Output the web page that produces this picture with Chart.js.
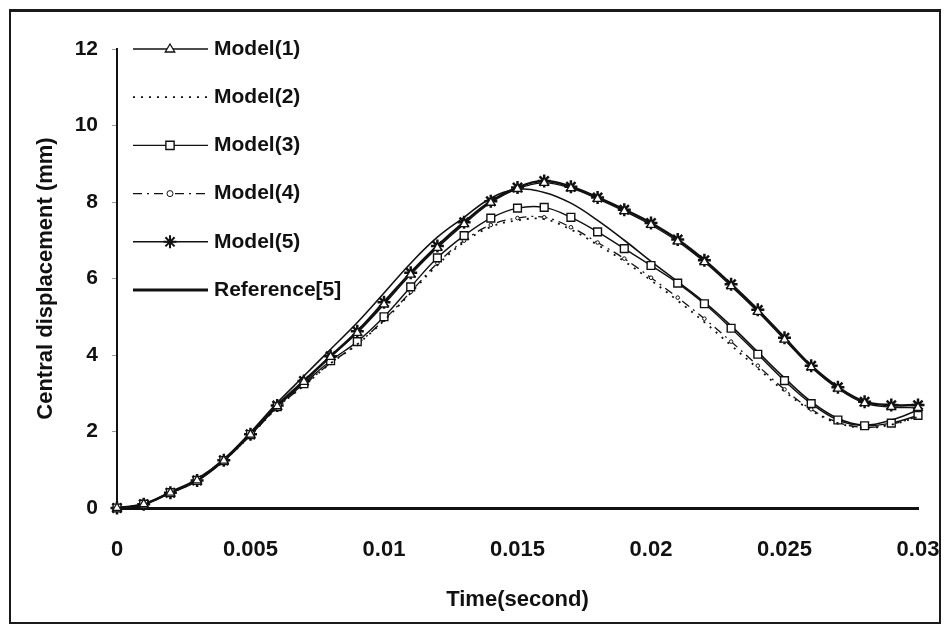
<!DOCTYPE html>
<html>
<head>
<meta charset="utf-8">
<script src="https://cdn.jsdelivr.net/npm/chart.js@4.4.1/dist/chart.umd.min.js"></script>
<style>
  html, body { margin: 0; padding: 0; background: #fff; }
  #wrap { position: relative; width: 946px; height: 629px; }
  #frame { position: absolute; left: 9px; top: 9px; width: 928px; height: 610px; border: 2px solid #1a1a1a; border-top-width: 3px; pointer-events: none; }
  canvas { position: absolute; left: 0; top: 0; }
</style>
</head>
<body>
<div id="wrap">
  <canvas id="chart" width="946" height="629"></canvas>
  <div id="frame"></div>
</div>
<script>
// time (second)
var times = [0, 0.001, 0.002, 0.003, 0.004, 0.005, 0.006, 0.007, 0.008, 0.009, 0.010,
  0.011, 0.012, 0.013, 0.014, 0.015, 0.016, 0.017, 0.018, 0.019, 0.020,
  0.021, 0.022, 0.023, 0.024, 0.025, 0.026, 0.027, 0.028, 0.029, 0.030];

// central displacement (mm)
var model1 = [0, 0.1, 0.4, 0.72, 1.24, 1.92, 2.66, 3.3, 3.95, 4.58, 5.32, 6.1, 6.8, 7.42, 7.98, 8.34, 8.5, 8.36, 8.08, 7.76, 7.4, 6.97, 6.43, 5.8, 5.13, 4.4, 3.68, 3.12, 2.74, 2.64, 2.62];
var model2 = [0, 0.1, 0.4, 0.72, 1.24, 1.9, 2.62, 3.2, 3.78, 4.28, 4.9, 5.62, 6.35, 6.95, 7.35, 7.52, 7.55, 7.28, 6.88, 6.45, 5.95, 5.42, 4.86, 4.25, 3.65, 3.05, 2.55, 2.22, 2.1, 2.18, 2.38];
var model3 = [0, 0.1, 0.4, 0.72, 1.24, 1.92, 2.65, 3.25, 3.85, 4.35, 5.0, 5.78, 6.54, 7.12, 7.58, 7.84, 7.86, 7.6, 7.22, 6.78, 6.34, 5.88, 5.34, 4.7, 4.02, 3.33, 2.73, 2.3, 2.15, 2.22, 2.42];
var model4 = [0, 0.1, 0.4, 0.72, 1.24, 1.9, 2.62, 3.21, 3.79, 4.29, 4.92, 5.65, 6.4, 6.99, 7.4, 7.58, 7.6, 7.34, 6.94, 6.52, 6.02, 5.5, 4.95, 4.35, 3.72, 3.1, 2.58, 2.24, 2.11, 2.19, 2.39];
var model5 = [0, 0.1, 0.4, 0.72, 1.25, 1.93, 2.68, 3.32, 3.97, 4.62, 5.38, 6.15, 6.85, 7.47, 8.02, 8.38, 8.55, 8.4, 8.12, 7.8, 7.45, 7.02, 6.48, 5.85, 5.18, 4.45, 3.72, 3.16, 2.78, 2.69, 2.69];
var reference5 = [0, 0.1, 0.42, 0.76, 1.28, 1.98, 2.75, 3.45, 4.15, 4.85, 5.62, 6.4, 7.08, 7.6, 8.1, 8.33, 8.25, 7.97, 7.52, 7.0, 6.45, 5.92, 5.38, 4.76, 4.08, 3.4, 2.78, 2.34, 2.17, 2.3, 2.56];

var seriesNames = ['Model(1)', 'Model(2)', 'Model(3)', 'Model(4)', 'Model(5)', 'Reference[5]'];
var yTicks = [0, 2, 4, 6, 8, 10, 12];
var xTicks = [0, 0.005, 0.01, 0.015, 0.02, 0.025, 0.03];

var fontFamily = '"Liberation Sans", Arial, sans-serif';

function toPoints(values) {
  return times.map((t, i) => ({x: t, y: values[i]}));
}

function drawMarker(ctx, style, x, y, r, lw) {
  ctx.save();
  ctx.lineWidth = lw;
  ctx.strokeStyle = '#111';
  ctx.fillStyle = '#fff';
  ctx.beginPath();
  if (style === 'triangle') {
    ctx.moveTo(x, y - r);
    ctx.lineTo(x + r * 0.95, y + r * 0.6);
    ctx.lineTo(x - r * 0.95, y + r * 0.6);
    ctx.closePath();
    ctx.fill(); ctx.stroke();
  } else if (style === 'rect') {
    ctx.rect(x - r * 0.75, y - r * 0.75, r * 1.5, r * 1.5);
    ctx.fill(); ctx.stroke();
  } else if (style === 'circle') {
    ctx.arc(x, y, r, 0, Math.PI * 2);
    ctx.fill(); ctx.stroke();
  } else if (style === 'star') {
    for (let k = 0; k < 4; k++) {
      let a = k * Math.PI / 4;
      ctx.moveTo(x - Math.cos(a) * r, y - Math.sin(a) * r);
      ctx.lineTo(x + Math.cos(a) * r, y + Math.sin(a) * r);
    }
    ctx.stroke();
  }
  ctx.restore();
}

// legend drawn inside the plot, top-left, like the original figure
var legendBox = {
  id: 'legendBox',
  afterDraw(chart) {
    var ctx = chart.ctx;
    var x0 = 133, x1 = 208, tx = 214, y0 = 49, dy = 48.2;
    chart.data.datasets.forEach((ds, i) => {
      var y = y0 + i * dy;
      ctx.save();
      ctx.strokeStyle = ds.borderColor;
      ctx.lineWidth = ds.legendLineWidth || ds.borderWidth;
      ctx.setLineDash(ds.borderDash || []);
      ctx.beginPath();
      ctx.moveTo(x0, y);
      ctx.lineTo(x1, y);
      ctx.stroke();
      ctx.setLineDash([]);
      if (ds.pointRadius > 0) {
        drawMarker(ctx, ds.pointStyle, 170, y, ds.legendRadius || ds.pointRadius, ds.legendMarkerWidth || ds.pointBorderWidth);
      }
      ctx.fillStyle = '#111';
      ctx.font = 'bold 21px ' + fontFamily;
      ctx.textBaseline = 'middle';
      ctx.textAlign = 'left';
      ctx.fillText(seriesNames[i], tx, y);
      ctx.restore();
    });
  }
};

new Chart(document.getElementById('chart'), {
  type: 'line',
  data: {
    datasets: [
      {
        label: seriesNames[0],
        data: toPoints(model1),
        borderColor: '#111', borderWidth: 1.3,
        pointStyle: 'triangle', pointRadius: 5, pointBorderWidth: 1.3,
        pointBackgroundColor: '#fff', pointBorderColor: '#111',
        tension: 0.4
      },
      {
        label: seriesNames[1],
        data: toPoints(model2),
        borderColor: '#111', borderWidth: 1.8, borderDash: [2, 6],
        pointRadius: 0, pointBorderWidth: 0,
        tension: 0.4
      },
      {
        label: seriesNames[2],
        data: toPoints(model3),
        borderColor: '#111', borderWidth: 1.4,
        pointStyle: 'rect', pointRadius: 5.5, pointBorderWidth: 1.4,
        pointBackgroundColor: '#fff', pointBorderColor: '#111',
        tension: 0.4
      },
      {
        label: seriesNames[3],
        data: toPoints(model4),
        borderColor: '#111', borderWidth: 1.3, borderDash: [9, 5, 2, 5],
        pointStyle: 'circle', pointRadius: 1.8, pointBorderWidth: 1,
        pointBackgroundColor: '#fff', pointBorderColor: '#111',
        legendRadius: 3,
        tension: 0.4
      },
      {
        label: seriesNames[4],
        data: toPoints(model5),
        borderColor: '#111', borderWidth: 2.5,
        legendLineWidth: 1.5, legendMarkerWidth: 2,
        pointStyle: 'star', pointRadius: 6.5, pointBorderWidth: 2.5,
        pointBackgroundColor: '#111', pointBorderColor: '#111',
        tension: 0.4
      },
      {
        label: seriesNames[5],
        data: toPoints(reference5),
        borderColor: '#111', borderWidth: 1.6,
        legendLineWidth: 3,
        pointRadius: 0, pointBorderWidth: 0,
        tension: 0.4
      }
    ]
  },
  options: {
    responsive: false,
    animation: false,
    clip: false,
    layout: { padding: { left: 0, top: 49, right: 28, bottom: 0 } },
    plugins: {
      legend: { display: false },
      tooltip: { enabled: false }
    },
    scales: {
      x: {
        type: 'linear',
        min: 0, max: 0.03,
        afterBuildTicks: (scale) => { scale.ticks = xTicks.map(v => ({value: v})); },
        afterFit: (scale) => {
          scale.height = 121;
          scale.paddingLeft = 0;
          scale.paddingRight = 0;
        },
        grid: { drawOnChartArea: false, drawTicks: false },
        border: { display: true, color: '#111', width: 3 },
        ticks: {
          padding: 29,
          color: '#111',
          font: { family: fontFamily, size: 22, weight: 'bold' },
          maxRotation: 0,
          callback: (v) => String(Number(Number(v).toFixed(3)))
        },
        title: {
          display: true,
          text: 'Time(second)',
          color: '#111',
          font: { family: fontFamily, size: 22, weight: 'bold' },
          padding: { top: 0, bottom: 16 }
        }
      },
      y: {
        min: 0, max: 12,
        afterBuildTicks: (scale) => { scale.ticks = yTicks.map(v => ({value: v})); },
        afterFit: (scale) => { scale.width = 117; },
        grid: { drawOnChartArea: false, drawTicks: true, tickLength: 5, color: '#999' },
        border: { display: true, color: '#111', width: 2 },
        ticks: {
          padding: 14,
          color: '#111',
          font: { family: fontFamily, size: 21, weight: 'bold' }
        },
        title: {
          display: true,
          text: 'Central displacement (mm)',
          color: '#111',
          font: { family: fontFamily, size: 22, weight: 'bold' },
          padding: { top: 33, bottom: 0 }
        }
      }
    }
  },
  plugins: [legendBox]
});
</script>
</body>
</html>
